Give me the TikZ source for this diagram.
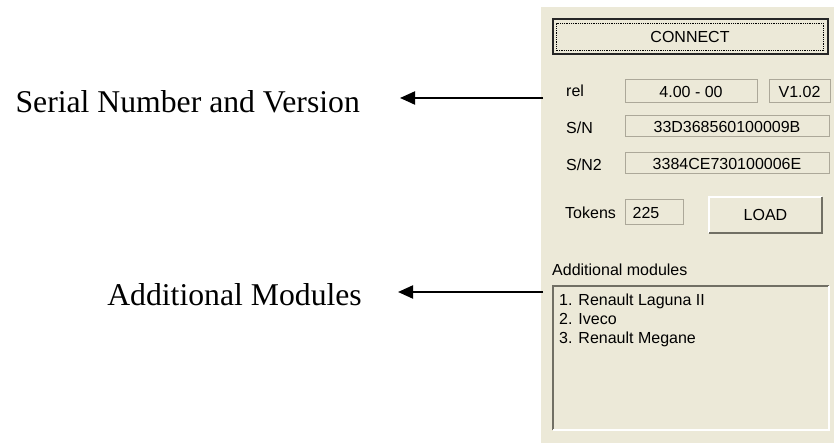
\documentclass[tikz,border=0pt]{standalone}
\usepackage{fontspec}
\setmainfont{Liberation Serif}
\newfontfamily\guifont{Liberation Sans}
\usetikzlibrary{arrows.meta}
\definecolor{panelbg}{RGB}{236,233,216}
\definecolor{fieldline}{RGB}{172,168,153}
\definecolor{btnshadow}{RGB}{113,111,100}
\tikzset{
  callout/.style={font=\fontsize{31.7}{36}\selectfont, anchor=base east, inner sep=0pt},
  pointer/.style={line width=2pt, -{Triangle[length=15pt,width=13pt]}},
  guitext/.style={font=\guifont\fontsize{16}{19}\selectfont, inner sep=0pt, text height=11.5pt, text depth=0pt},
  field/.style={guitext, draw=fieldline, line width=1pt, fill=panelbg},
}
\begin{document}
\begin{tikzpicture}[x=1pt,y=-1pt]
    \useasboundingbox (0,0) rectangle (834,443);
    \fill [panelbg] (541,7) rectangle (834,443);
    \node[guitext, draw=black!85, line width=2pt, fill=panelbg, minimum width=275pt, minimum height=35pt] (connect) at (690,37) {CONNECT};
    \draw[densely dotted, line width=0.8pt] ([shift={(5pt,5pt)}]connect.south west) rectangle ([shift={(-5pt,-5pt)}]connect.north east);
    \node[guitext, anchor=west] (rellbl) at (566,91) {rel};
    \node[field, minimum width=132pt, minimum height=23pt] (relval) at (691,91.5) {4.00 - 00};
    \node[field, minimum width=61pt, minimum height=23pt] (verval) at (799.5,91.5) {V1.02};
    \node[guitext, anchor=west] (snlbl) at (566,127.5) {S/N};
    \node[field, minimum width=204pt, minimum height=21pt] (snval) at (727,126.5) {33D368560100009B};
    \node[guitext, anchor=west] (sntwolbl) at (566,164.5) {S/N2};
    \node[field, minimum width=204pt, minimum height=21pt] (sntwoval) at (727,163.5) {3384CE730100006E};
    \node[guitext, anchor=west] (toklbl) at (565,212.5) {Tokens};
    \node[field, minimum width=58pt, minimum height=25pt] (tokbox) at (654,212.5) {};
    \node[guitext] (tokval) at (646,212.5) {225};
    \node[guitext, fill=panelbg, minimum width=113pt, minimum height=36pt] (load) at (765.5,215) {LOAD};
    \draw[white, line width=1.5pt] (load.south west) -- (load.north west) -- (load.north east);
    \draw[btnshadow, line width=2pt] (load.north east) -- (load.south east) -- (load.south west);
    \node[guitext, anchor=west] (modlbl) at (552,269.5) {Additional modules};
    \node[fill=panelbg, inner sep=0pt, minimum width=276pt, minimum height=144pt] (modlist) at (691,358) {};
    \draw[btnshadow, line width=2pt] (modlist.south west) -- (modlist.north west) -- (modlist.north east);
    \draw[white, line width=1.5pt] (modlist.north east) -- (modlist.south east) -- (modlist.south west);
    \foreach \txt [count=\i] in {1. Renault Laguna II, 2. Iveco, 3. Renault Megane}
        \node[guitext, anchor=west] (item\i) at (559,281+19*\i) {\txt};
    % callouts
    \node[callout] (sernum) at (360,113) {Serial Number and Version};
    \node[callout] (addmod) at (362,305) {Additional Modules};
    \coordinate (relpt) at (543,98);
    \coordinate (sertip) at (400,98);
    \coordinate (modpt) at (543,292);
    \coordinate (modtip) at (398,292);
    \draw[pointer] (relpt) -- (sertip);
    \draw[pointer] (modpt) -- (modtip);
\end{tikzpicture}
\end{document}
